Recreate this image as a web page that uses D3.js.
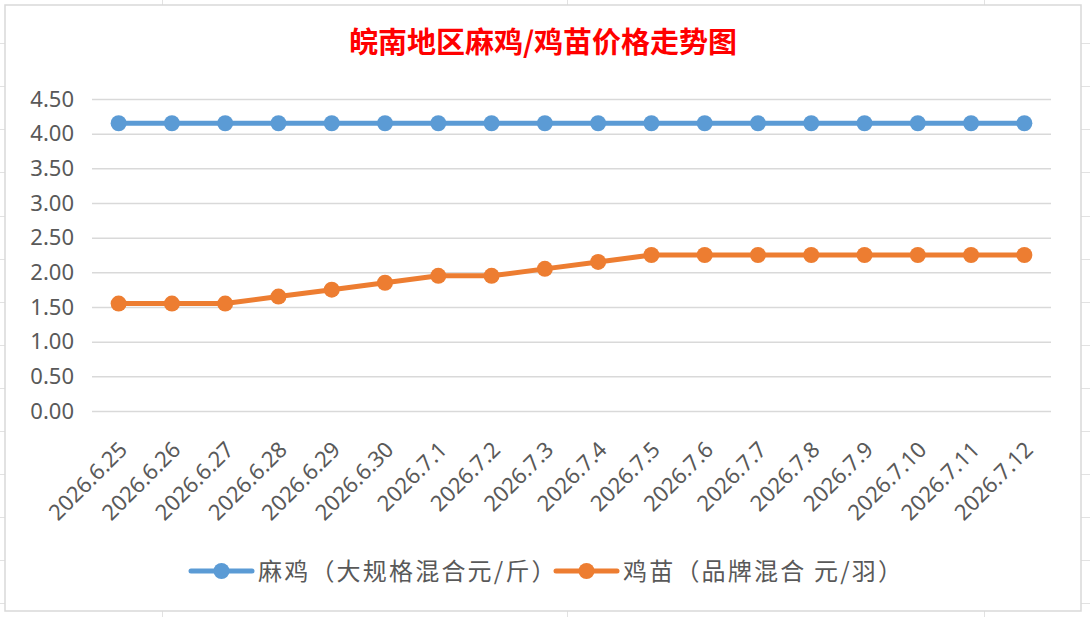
<!DOCTYPE html>
<html>
<head>
<meta charset="utf-8">
<script src="https://cdn.jsdelivr.net/npm/d3@7"></script>
<style>
	body{margin:0;padding:0;background:#fff;}
	.canvas{width:1090px;height:617px;}
	text{font-family:"Noto Sans","Noto Sans CJK SC",sans-serif;}
</style>
</head>
<body>
<div class="canvas" id="plot"></div>
<script>
//price trend chart - 皖南地区麻鸡/鸡苗价格走势图

//data
var dates = ['2026.6.25','2026.6.26','2026.6.27','2026.6.28','2026.6.29','2026.6.30','2026.7.1','2026.7.2','2026.7.3',
	'2026.7.4','2026.7.5','2026.7.6','2026.7.7','2026.7.8','2026.7.9','2026.7.10','2026.7.11','2026.7.12'];
var majiPrice = [4.15,4.15,4.15,4.15,4.15,4.15,4.15,4.15,4.15,4.15,4.15,4.15,4.15,4.15,4.15,4.15,4.15,4.15];
var jimiaoPrice = [1.55,1.55,1.55,1.65,1.75,1.85,1.95,1.95,2.05,2.15,2.25,2.25,2.25,2.25,2.25,2.25,2.25,2.25];
var yTicks = [0,0.5,1,1.5,2,2.5,3,3.5,4,4.5];
var seriesNames = ['麻鸡（大规格混合元/斤）','鸡苗（品牌混合 元/羽）'];
var seriesColors = ['#5B9BD5','#ED7D31'];
var titleText = '皖南地区麻鸡/鸡苗价格走势图';

var W = 1090, H = 617;
var margin = {t:99,r:39,b:206,l:92};

var svg = d3.select('.canvas')
	.append('svg')
	.attr('width',W)
	.attr('height',H);

//spreadsheet cells behind the chart object
var rows = d3.range(1,15).map(function(k){return k*43.1;});
svg.selectAll('.row').data(rows).enter().append('line')
	.attr('x1',0).attr('x2',W)
	.attr('y1',function(d){return Math.round(d)+0.5;})
	.attr('y2',function(d){return Math.round(d)+0.5;})
	.style('stroke','#E2E2E2').style('stroke-width','1px');
svg.selectAll('.col').data([162,567,984]).enter().append('line')
	.attr('x1',function(d){return d+0.5;}).attr('x2',function(d){return d+0.5;})
	.attr('y1',0).attr('y2',H)
	.style('stroke','#E2E2E2').style('stroke-width','1px');

//chart area
svg.append('rect')
	.attr('x',5).attr('y',5)
	.attr('width',1076).attr('height',606)
	.style('fill','#fff')
	.style('stroke','#D9D9D9')
	.style('stroke-width','1.5px');

svg.append('text')
	.attr('x',543).attr('y',53)
	.attr('text-anchor','middle')
	.style('font-family','"Noto Sans CJK SC",sans-serif')
	.style('font-size','29px')
	.style('font-weight','bold')
	.style('fill','#FF0000')
	.text(titleText);

var plot = svg.append('g')
	.attr('transform','translate('+margin.l+','+margin.t+')');
var width = W-margin.l-margin.r,
	height = H-margin.t-margin.b;

var x = d3.scaleBand().domain(dates).range([0,width]);
var y = d3.scaleLinear().domain([0,4.5]).range([height,0]);

//gridlines + y labels
var yAxis = d3.axisLeft(y)
	.tickValues(yTicks)
	.tickFormat(d3.format('.2f'))
	.tickSize(-width)
	.tickPadding(18);
var gy = plot.append('g').call(yAxis);
gy.select('.domain').remove();
gy.selectAll('line').style('stroke','#D9D9D9').style('stroke-width','1.5px');
gy.selectAll('text')
	.style('font-size','22px')
	.style('fill','#595959');

//x labels
var xAxis = d3.axisBottom(x).tickSize(0).tickPadding(0);
var gx = plot.append('g')
	.attr('transform','translate(0,'+height+')')
	.call(xAxis);
gx.select('.domain').remove();
gx.selectAll('text')
	.attr('dy',null)
	.attr('y',0)
	.attr('text-anchor','end')
	.attr('transform','translate(10,40) rotate(-45)')
	.style('font-size','22px')
	.style('fill','#595959');

//lines
var line = d3.line()
	.x(function(d,i){return x(dates[i])+x.bandwidth()/2;})
	.y(function(d){return y(d);});

[majiPrice,jimiaoPrice].forEach(function(series,s){
	plot.append('path')
		.datum(series)
		.attr('d',line)
		.style('fill','none')
		.style('stroke',seriesColors[s])
		.style('stroke-width','5px')
		.style('stroke-linejoin','round');

	series.forEach(function(v,i){
		plot.append('circle')
			.attr('cx',x(dates[i])+x.bandwidth()/2)
			.attr('cy',y(v))
			.attr('r',8)
			.style('fill',seriesColors[s]);
	});
});

//legend
var legendX = [191,556];
seriesNames.forEach(function(name,s){
	var g = svg.append('g').attr('transform','translate('+legendX[s]+',571)');
	g.append('line')
		.attr('x1',0).attr('x2',61)
		.style('stroke',seriesColors[s])
		.style('stroke-width','5px')
		.style('stroke-linecap','round');
	g.append('circle')
		.attr('cx',30.5).attr('r',8)
		.style('fill',seriesColors[s]);
	g.append('text')
		.attr('x',67).attr('y',9)
		.style('font-family','"Noto Sans CJK SC",sans-serif')
		.style('font-size','24px')
		.style('letter-spacing','2.2px')
		.style('fill','#595959')
		.text(name);
});
</script>
</body>
</html>
